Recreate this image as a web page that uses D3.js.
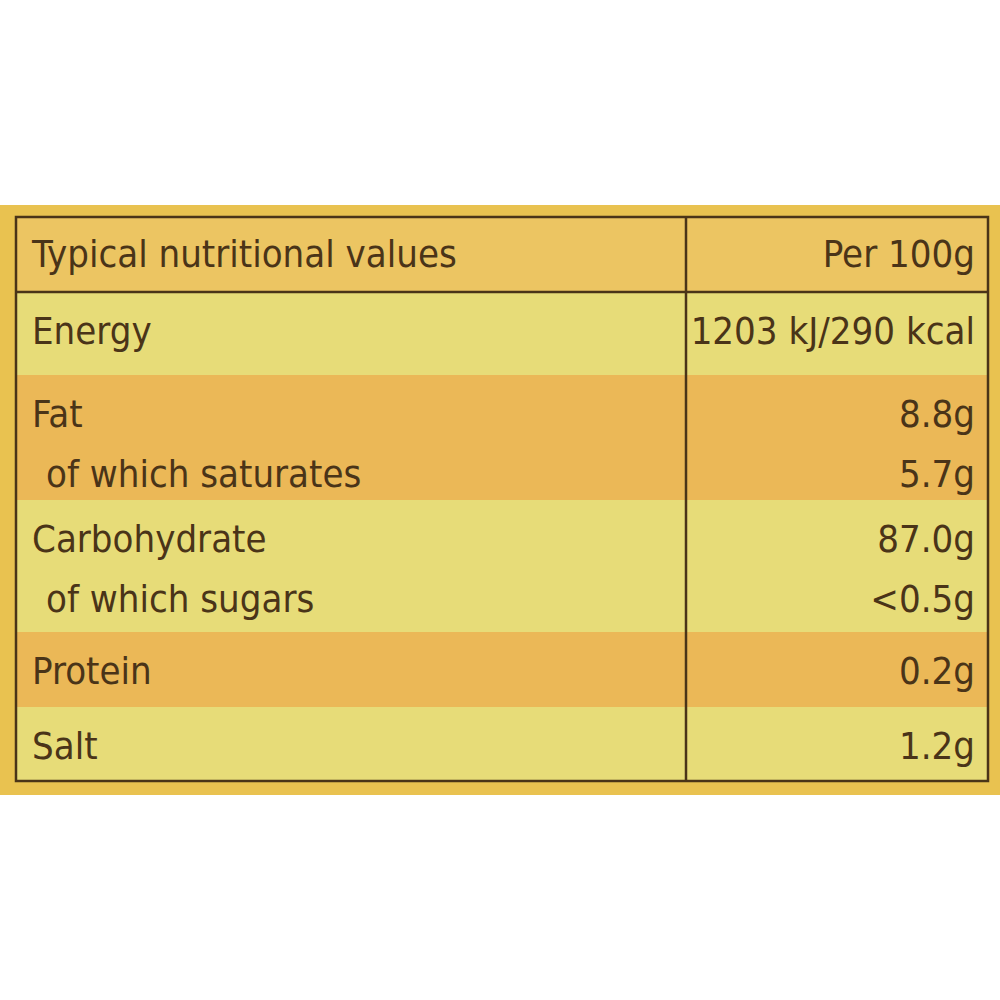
<!DOCTYPE html>
<html><head><meta charset="utf-8">
<script src="https://cdn.jsdelivr.net/npm/d3@7"></script>
<style>body{margin:0;background:#fff}</style></head>
<body><svg id="c" width="1000" height="1000"></svg>
<script>
const header = ["Typical nutritional values", "Per 100g"];
const rowLabels = [["Energy"], ["Fat", " of which saturates"], ["Carbohydrate", " of which sugars"], ["Protein"], ["Salt"]];
const rowValues = [["1203 kJ/290 kcal"], ["8.8g", "5.7g"], ["87.0g", "<0.5g"], ["0.2g"], ["1.2g"]];
const rowFills = ["#e7dc78", "#ebb857", "#e7dc78", "#ebb857", "#e7dc78"];
const rowBounds = [292, 375, 500, 632, 707, 781];

const svg = d3.select("#c");
const font = "'Liberation Sans Narrow','DejaVu Sans Condensed','Roboto Condensed',sans-serif";
const ink = "#4a3418";
const L = 16, R = 988, T = 217, D = 686;

svg.append("rect").attr("x",0).attr("y",205).attr("width",1000).attr("height",590).attr("fill","#e9c250");
svg.append("rect").attr("x",L).attr("y",T).attr("width",R-L).attr("height",292-T).attr("fill","#ecc562");
svg.selectAll("rect.row").data(rowFills).join("rect").attr("class","row")
  .attr("x",L).attr("y",(d,i)=>rowBounds[i]).attr("width",R-L)
  .attr("height",(d,i)=>rowBounds[i+1]-rowBounds[i]).attr("fill",d=>d);

const txt = (x,y,s,anchor)=>svg.append("text").attr("x",x).attr("y",y).text(s)
  .attr("font-family",font).attr("font-size",38).attr("fill",ink).attr("text-anchor",anchor);

txt(32,267,header[0],"start");
txt(975,267,header[1],"end");
rowLabels.forEach((ls,i)=>{
  ls.forEach((s,j)=>{
    txt(32 + (j?14:0), rowBounds[i]+52+j*60, s.trim(), "start");
    txt(975, rowBounds[i]+52+j*60, rowValues[i][j], "end");
  });
});

const g = svg.append("g").attr("stroke","#4a3418").attr("stroke-width",2.5).attr("fill","none");
g.append("rect").attr("x",L).attr("y",T).attr("width",R-L).attr("height",781-T);
g.append("line").attr("x1",L).attr("x2",R).attr("y1",292).attr("y2",292);
g.append("line").attr("x1",D).attr("x2",D).attr("y1",T).attr("y2",781);
</script></body></html>
